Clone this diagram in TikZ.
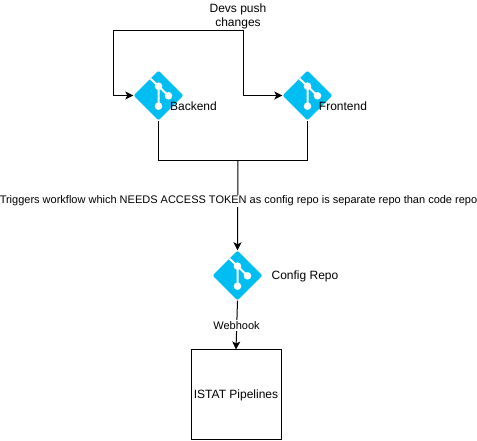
\documentclass[tikz,border=0pt]{standalone}
\usepackage{fontspec}
\setmainfont{Liberation Sans}
\usetikzlibrary{arrows.meta,shapes.geometric}
\definecolor{gitcyan}{HTML}{00BEF2}
\tikzset{
  gitlogo/.style={diamond,aspect=1,inner sep=0pt,minimum width=50pt,minimum height=50pt,fill=gitcyan,rounded corners=2pt,
    path picture={
      \begin{scope}[shift={(path picture bounding box.center)}]
      \draw[white,line width=2pt] (-8.3,17) -- (0,9.3) -- (0,-10.7);
      \draw[white,line width=2pt] (0,9.3) -- (10,-0.3);
      \fill[white] (0,9.3) circle (3.8) (10,-0.3) circle (3.8) (0,-10.7) circle (3.8);
      \end{scope}
    }},
  wire/.style={draw=black,line width=1pt},
  arrowwire/.style={wire,-{Stealth[length=8pt,width=8pt,inset=2pt]}},
  lbl/.style={inner sep=0pt,font=\fontsize{12}{14}\selectfont,align=center,text=black},
  lblbg/.style={lbl,fill=white,inner ysep=1pt,inner xsep=0pt},
  boxnode/.style={draw=black,line width=1pt,minimum width=90pt,minimum height=90pt,inner sep=0pt}
}
\begin{document}
\begin{tikzpicture}[x=1pt,y=1pt]
\useasboundingbox (0,0) rectangle (477,441);
\node[gitlogo] (backend) at (158.5,345.5) {};
\node[gitlogo] (frontend) at (307.5,345.5) {};
\node[gitlogo] (config) at (237.5,165.5) {};
\node[boxnode] (istat) at (236,46) {\fontsize{12}{14}\selectfont ISTAT Pipelines};
\coordinate (split) at (243,410.5);
\coordinate (leftcorner) at (113.5,410.5);
\coordinate (merge) at (238,280.5);
\draw[arrowwire] (split) -- (leftcorner) |- (backend.west);
\draw[arrowwire] (split) |- (frontend.west);
\draw[wire] (backend.south) -- (backend.south |- merge) -- (frontend.south |- merge) -- (frontend.south);
\draw[arrowwire] (merge) -- (config.north);
\draw[arrowwire] (config.south) -- (istat.north);
\node[lbl] (devs) at (238,424.5) {Devs push\\changes};
\node[lbl] at (193.5,335) (backendlabel) {Backend};
\node[lbl] at (343,335) (frontendlabel) {Frontend};
\node[lbl] at (305,164.5) (configlabel) {Config Repo};
\node[lblbg,font=\fontsize{11}{13}\selectfont] (trigger) at (238.5,240) {Triggers workflow which NEEDS ACCESS TOKEN as config repo is separate repo than code repo};
\node[lblbg,font=\fontsize{11}{13}\selectfont] (webhook) at (236.5,115.5) {Webhook};
\end{tikzpicture}
\end{document}
